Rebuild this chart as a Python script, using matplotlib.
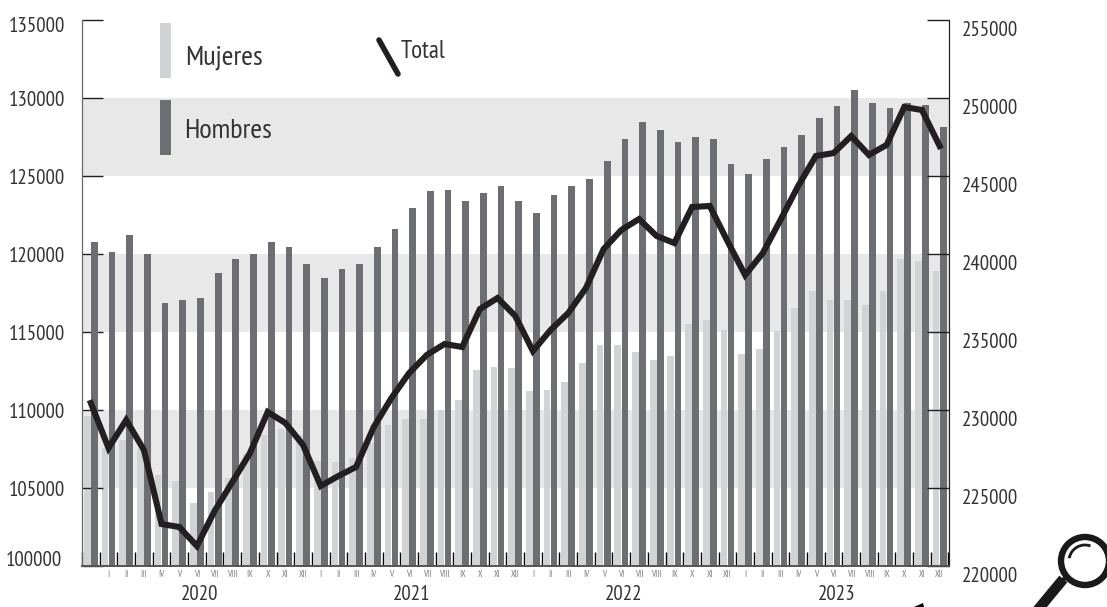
import matplotlib
matplotlib.use('Agg')
import matplotlib.pyplot as plt
from matplotlib.patches import Circle, Arc, Polygon, Rectangle
from matplotlib.lines import Line2D
from matplotlib.transforms import ScaledTranslation

plt.rcParams['font.family'] = ['PT Sans Narrow', 'Liberation Sans', 'DejaVu Sans']

# Values, Dec 2019 to Dec 2023
total = [230450, 227560, 229360, 227440, 222690, 222500, 221280, 223530, 225380, 227240,
         229870, 229170, 227760, 225130, 225770, 226350, 228910, 230770, 232370, 233530,
         234230, 234040, 236470, 237180, 236030, 233780, 235130, 236220, 237820, 240320,
         241540, 242240, 241150, 240700, 243010, 243080, 240830, 238650, 240060, 242180,
         244360, 246280, 246470, 247560, 246350, 246990, 249420, 249230, 246920]
hombres = [120800, 120100, 121240, 119970, 116830, 117020, 117210, 118810, 119650, 119970,
           120740, 120420, 119330, 118430, 119070, 119390, 120480, 121630, 122920, 124070,
           124130, 123370, 123940, 124330, 123370, 122600, 123810, 124330, 124780, 125930,
           127340, 128430, 127920, 127150, 127530, 127340, 125800, 125160, 126120, 126890,
           127600, 128690, 129460, 130540, 129710, 129390, 129710, 129580, 128170]
mujeres = [109640, 107560, 108080, 107500, 105830, 105450, 104040, 104740, 105640, 107180,
           108400, 108780, 108400, 106730, 106670, 106920, 107880, 109040, 109420, 109420,
           110000, 110640, 112560, 112750, 112690, 111220, 111280, 111790, 113010, 114170,
           114170, 113720, 113210, 113460, 115510, 115770, 115130, 113590, 113910, 115060,
           116540, 117630, 117050, 117050, 116730, 117630, 119680, 119560, 118910]
months = ['', 'I', 'II', 'III', 'IV', 'V', 'VI', 'VII', 'VIII', 'IX', 'X', 'XI', 'XII'] + \
         ['I', 'II', 'III', 'IV', 'V', 'VI', 'VII', 'VIII', 'IX', 'X', 'XI', 'XII'] * 3
years = ['2020', '2021', '2022', '2023']
left_ticks = [100000, 105000, 110000, 115000, 120000, 125000, 130000, 135000]
right_ticks = [220000, 225000, 230000, 235000, 240000, 245000, 250000, 255000]
bands = [(105000, 110000), (115000, 120000), (125000, 130000)]

DARK = '#6d6e71'
LIGHT = '#d1d3d4'
BAND = '#e8e8e8'
INK = '#231f20'
TEXT = '#333333'

W, H = 1107, 607
fig = plt.figure(figsize=(W / 100, H / 100), dpi=100)
ax = fig.add_axes([82 / W, (H - 566) / H, 867 / W, 546 / H])
x = list(range(len(total)))

for low, high in bands:
    ax.axhspan(low, high, color=BAND, lw=0, zorder=0)
ax.bar([i - 0.2 for i in x], mujeres, width=0.38, color=LIGHT, zorder=1)
ax.bar([i + 0.2 for i in x], hombres, width=0.38, color=DARK, zorder=2)
ax.set_xlim(-0.48, 48.53)
ax.set_ylim(100000, 135000)

# ticks sit between the months, month names on minor ticks
ax.set_xticks([i - 0.5 for i in x] + [48.5])
ax.set_xticklabels([])
ax.tick_params(axis='x', which='major', direction='in', length=10, width=1, color='black')
ax.set_xticks(x[1:], minor=True)
ax.set_xticklabels(months[1:], minor=True, fontsize=6.5, color='#777777')
ax.tick_params(axis='x', which='minor', length=0, pad=3)

ax.set_yticks(left_ticks)
ax.set_yticklabels([str(t) for t in left_ticks], fontsize=15, color=TEXT)
ax.tick_params(axis='y', direction='in', length=15, width=1, color=INK, pad=12)
labels = ax.get_yticklabels()
labels[0].set_transform(labels[0].get_transform() + ScaledTranslation(-0.03, 0.08, fig.dpi_scale_trans))
labels[-1].set_transform(labels[-1].get_transform() + ScaledTranslation(0, -0.045, fig.dpi_scale_trans))

ax2 = ax.twinx()
ax2.plot(x, total, color=INK, lw=4.4, solid_joinstyle='miter', zorder=5)
ax2.set_ylim(220000, 255000)
ax2.set_yticks(right_ticks)
ax2.set_yticklabels([str(t) for t in right_ticks], fontsize=15, color=TEXT)
ax2.tick_params(axis='y', direction='in', length=15.5, width=1, color=INK, pad=9)
for lab in ax2.get_yticklabels():
    lab.set_transform(lab.get_transform() + ScaledTranslation(0, -0.085, fig.dpi_scale_trans))

for a in (ax, ax2):
    a.spines['top'].set_visible(False)
    a.spines['left'].set_color('#666666')
    a.spines['bottom'].set_color('#555555')
    a.spines['bottom'].set_linewidth(1.2)
    a.spines['right'].set_color(INK)

for n, year in enumerate(years):
    ax.text(6.15 + 12 * n, -0.053, year, transform=ax.get_xaxis_transform(),
            ha='center', va='center', fontsize=15, color=TEXT)


# legend and the loupe are placed in picture pixels
def px(xp, yp):
    return xp / W, 1 - yp / H


def frect(x0, y0, x1, y1, color):
    fig.add_artist(Rectangle(px(x0, y1), (x1 - x0) / W, (y1 - y0) / H, color=color, lw=0,
                             transform=fig.transFigure))


frect(160, 23, 171, 78, LIGHT)
frect(160, 100, 171, 155, DARK)
fig.text(*px(185, 58), 'Mujeres', fontsize=20.5, color=TEXT, va='center')
fig.text(*px(184, 131), 'Hombres', fontsize=20.5, color=TEXT, va='center')
fig.text(*px(401, 52), 'Total', fontsize=18, color=TEXT, va='center')
(x0, y0), (x1, y1) = px(379, 40), px(398, 74)
fig.add_artist(Line2D([x0, x1], [y0, y1], color=INK, lw=4, solid_capstyle='round',
                      transform=fig.transFigure))

# loupe, drawn in pixel coordinates on a full-figure overlay
over = fig.add_axes([0, 0, 1, 1], facecolor='none')
over.set_xlim(0, W)
over.set_ylim(H, 0)
over.axis('off')
over.add_patch(Circle((1085, 561), 24, fill=False, ec='#1a1a1a', lw=4.6))
over.add_patch(Arc((1085, 561), 32, 32, theta1=190, theta2=290, ec='#1a1a1a', lw=2))
over.add_line(Line2D([1065, 1060], [578, 583], color='#1a1a1a', lw=3))
over.add_line(Line2D([1060, 1036], [583, 612], color='#1a1a1a', lw=7.5))
over.add_patch(Polygon([(914, 607), (923, 603), (924, 607)], color='black', lw=0))

fig.savefig('out.png', dpi=100)
